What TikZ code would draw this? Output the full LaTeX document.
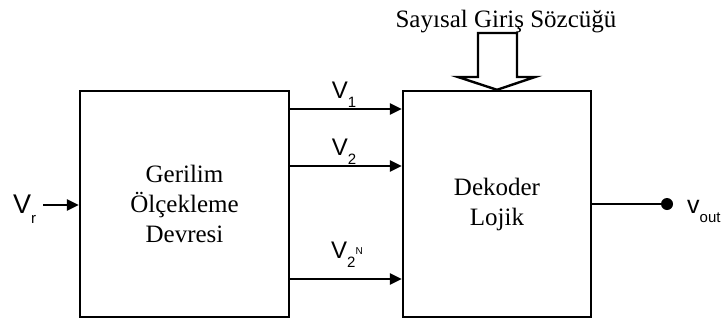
\documentclass[tikz,border=0pt]{standalone}
\usepackage{fontspec}
\setmainfont{Liberation Serif}
\newfontfamily\arialfont{Liberation Sans}
\usetikzlibrary{arrows.meta}
% small lowered index for the sans labels
\newcommand\lowidx[1]{\raisebox{-0.38em}{\fontsize{15}{15}\selectfont #1}}
\newcommand\upidx[1]{\raisebox{0.85em}{\fontsize{10}{10}\selectfont #1}}

\begin{document}
\begin{tikzpicture}[x=1pt, y=-1pt, line width=2.4pt,
    blok/.style={draw, inner sep=0pt, minimum height=226pt, align=center,
      font=\fontsize{25}{30}\selectfont},
    sig/.style={-{Triangle[length=12pt, width=11pt]}},
    lbl/.style={anchor=base, inner sep=0pt, font=\arialfont\fontsize{24}{24}\selectfont}]
  \useasboundingbox (0,0) rectangle (725,322);
  % bloklar
  \node[blok, minimum width=209pt] (olcek) at (184.5,204) {Gerilim\\Ölçekleme\\Devresi};
  \node[blok, minimum width=188pt] (dekoder) at (497,204) {Dekoder\\Lojik};
  % sinyal seviyeleri
  \coordinate (y1) at (0,109);
  \coordinate (y2) at (0,166);
  \coordinate (yN) at (0,279);
  \draw[sig] (y1 -| olcek.east) -- (y1 -| dekoder.west);
  \draw[sig] (y2 -| olcek.east) -- (y2 -| dekoder.west);
  \draw[sig] (yN -| olcek.east) -- (yN -| dekoder.west);
  \node[lbl] (v1) at (344,98) {V\lowidx{1}};
  \node[lbl] (v2) at (344,155) {V\lowidx{2}};
  \node[lbl] (vN) at (347,258) {V\lowidx{2\upidx{N}}};
  % giris
  \node[lbl, anchor=base west, font=\arialfont\fontsize{27}{27}\selectfont] (vr) at (12,213) {V\lowidx{r}};
  \coordinate (vrend) at (43,205);
  \draw[sig] (vrend) -- (olcek.west |- vrend);
  % cikis
  \coordinate (dot) at (667,204);
  \draw (dekoder.east |- dot) -- (dot);
  \fill (dot) circle (6);
  \node[lbl, anchor=base west, font=\arialfont\fontsize{25}{25}\selectfont] (vout) at (686,213) {v\lowidx{out}};
  % sayisal giris oku
  \node[anchor=base, inner sep=0pt, font=\fontsize{25}{30}\selectfont] (baslik) at (506,27) {Sayısal Giriş Sözcüğü};
  \draw[line join=miter] (478,33) -- (517,33) -- (517,77) -- (535,77) -- (dekoder.north)
    -- (458,77) -- (478,77) -- cycle;
\end{tikzpicture}
\end{document}
